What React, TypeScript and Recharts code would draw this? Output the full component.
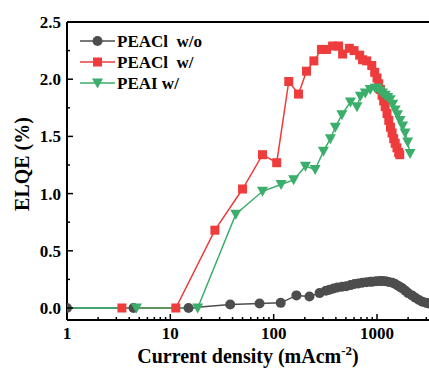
import React from "react";
import { LineChart, Line, XAxis, YAxis, ReferenceLine, Legend } from "recharts";

// PEACl w/o
const woX = [1, 4.4, 15, 38, 73, 117, 166, 222, 278, 320, 347, 380, 415, 460, 505, 555, 605, 660, 720, 790, 860, 905, 980, 1060, 1130, 1210, 1300, 1410, 1500, 1600, 1700, 1770, 1880, 2000, 2180, 2350, 2550, 2750, 3000, 3150];
const woY = [0, 0, 0, 0.03, 0.04, 0.045, 0.11, 0.1, 0.13, 0.15, 0.16, 0.17, 0.18, 0.185, 0.19, 0.2, 0.21, 0.215, 0.22, 0.225, 0.23, 0.23, 0.233, 0.235, 0.235, 0.233, 0.228, 0.22, 0.21, 0.195, 0.18, 0.17, 0.15, 0.13, 0.11, 0.09, 0.07, 0.055, 0.045, 0.04];

// PEACl w/
const clX = [3.4, 11.3, 27, 50, 78, 107, 140, 174, 208, 245, 290, 325, 372, 425, 465, 540, 600, 680, 725, 795, 890, 950, 1000, 1040, 1080, 1120, 1160, 1200, 1250, 1300, 1350, 1400, 1450, 1500, 1560, 1620, 1660];
const clY = [0, 0, 0.68, 1.04, 1.34, 1.27, 1.98, 1.87, 2.07, 2.16, 2.26, 2.26, 2.29, 2.29, 2.22, 2.27, 2.25, 2.21, 2.17, 2.16, 2.12, 2.06, 2.01, 1.96, 1.91, 1.86, 1.81, 1.76, 1.7, 1.64, 1.58, 1.53, 1.48, 1.44, 1.4, 1.36, 1.34];

// PEAI w/
const iX = [0.7, 4.7, 18.4, 43, 78, 118, 156, 203, 252, 303, 354, 395, 457, 553, 640, 690, 770, 860, 960, 1010, 1070, 1130, 1200, 1270, 1340, 1420, 1500, 1580, 1670, 1770, 1870, 1980, 2090];
const iY = [0, 0, 0, 0.82, 1.02, 1.08, 1.12, 1.24, 1.21, 1.37, 1.48, 1.58, 1.69, 1.8, 1.76, 1.85, 1.88, 1.91, 1.92, 1.92, 1.9, 1.88, 1.86, 1.84, 1.82, 1.78, 1.73, 1.69, 1.64, 1.59, 1.53, 1.45, 1.35];

const xTicks = [1, 2, 3, 4, 5, 6, 7, 8, 9, 10, 20, 30, 40, 50, 60, 70, 80, 90, 100, 200, 300, 400, 500, 600, 700, 800, 900, 1000, 2000, 3000];
const xLabels = [1, 10, 100, 1000];
const yTicks = [0, 0.25, 0.5, 0.75, 1, 1.25, 1.5, 1.75, 2, 2.25, 2.5];
const yLabels = [0, 0.5, 1, 1.5, 2, 2.5];

const GRAY = "#4d4d4d";
const RED = "#ee3b3b";
const GREEN = "#3aae6a";
const FONT = "'Liberation Serif', 'Times New Roman', serif";

const rows = (xs: number[], ys: number[]) => xs.map((x, i) => ({ x, y: ys[i] }));

const woData = rows(woX, woY);
const clData = rows(clX, clY);
const iData = rows(iX, iY);

const Square = (props: any) => {
  const { cx, cy, index } = props;
  if (cx == null || cy == null) return <g key={index} />;
  return <rect key={index} x={cx - 4.5} y={cy - 4.5} width={9} height={9} fill={RED} />;
};

const Tri = (props: any) => {
  const { cx, cy, index } = props;
  if (cx == null || cy == null) return <g key={index} />;
  return <polygon key={index} points={`${cx - 5.5},${cy - 4.5} ${cx + 5.5},${cy - 4.5} ${cx},${cy + 5.5}`} fill={GREEN} />;
};

const XTick = (props: any) => {
  const { x, y, payload } = props;
  const major = xLabels.includes(payload.value);
  return (
    <g>
      <line x1={x} x2={x} y1={y} y2={y - (major ? 6 : 3)} stroke="#000" strokeWidth={1.5} />
      {major && (
        <text x={x} y={y + 19} textAnchor="middle" fontFamily={FONT} fontWeight="bold" fontSize={17} fill="#000">
          {payload.value}
        </text>
      )}
    </g>
  );
};

const YTick = (props: any) => {
  const { x, y, payload } = props;
  const major = yLabels.includes(payload.value);
  return (
    <g>
      <line x1={x} x2={x + (major ? 6 : 3)} y1={y} y2={y} stroke="#000" strokeWidth={1.5} />
      {major && (
        <text x={x - 6} y={y + 6} textAnchor="end" fontFamily={FONT} fontWeight="bold" fontSize={17} fill="#000">
          {payload.value.toFixed(1)}
        </text>
      )}
    </g>
  );
};

const legendItems = [
  { name: "PEACl  w/o", color: GRAY, shape: "circle" },
  { name: "PEACl  w/", color: RED, shape: "square" },
  { name: "PEAI w/", color: GREEN, shape: "tri" },
];

const LegendBox = () => (
  <svg width={150} height={66}>
    {legendItems.map((it, i) => {
      const cy = 11 + i * 21;
      return (
        <g key={it.name}>
          <line x1={2} x2={37} y1={cy} y2={cy} stroke={it.color} strokeWidth={1.5} />
          {it.shape === "circle" && <circle cx={19.5} cy={cy} r={5} fill={it.color} />}
          {it.shape === "square" && <rect x={15} y={cy - 4.5} width={9} height={9} fill={it.color} />}
          {it.shape === "tri" && (
            <polygon points={`${14},${cy - 4.5} ${25},${cy - 4.5} ${19.5},${cy + 5.5}`} fill={it.color} />
          )}
          <text x={39} y={cy + 6} fontFamily={FONT} fontWeight="bold" fontSize={17} fill="#000" style={{ whiteSpace: "pre" }}>
            {it.name}
          </text>
        </g>
      );
    })}
  </svg>
);

const XLabel = () => (
  <text x={248} y={363} textAnchor="middle" fontFamily={FONT} fontWeight="bold" fontSize={20} fill="#000">
    Current density (mAcm
    <tspan dy={-8} fontSize={13}>-2</tspan>
    <tspan dy={8}>)</tspan>
  </text>
);

const YLabel = () => (
  <text x={29} y={164} transform="rotate(-90 29 164)" textAnchor="middle" fontFamily={FONT} fontWeight="bold" fontSize={20} fill="#000">
    ELQE (%)
  </text>
);

export default function App() {
  return (
    <div style={{ position: "absolute", left: 0, top: 0, background: "#fff" }}>
      <LineChart width={429} height={370} margin={{ top: 22, right: 0, left: 0, bottom: 0 }}>
        <XAxis
          dataKey="x"
          type="number"
          scale="log"
          domain={[1, 3186]}
          allowDataOverflow
          ticks={xTicks}
          interval={0}
          tick={<XTick />}
          tickLine={false}
          tickSize={0}
          tickMargin={0}
          height={50}
          axisLine={{ stroke: "#000", strokeWidth: 2 }}
          label={<XLabel />}
        />
        <YAxis
          type="number"
          domain={[-0.105, 2.5]}
          allowDataOverflow
          ticks={yTicks}
          interval={0}
          tick={<YTick />}
          tickLine={false}
          tickSize={0}
          tickMargin={0}
          width={67}
          axisLine={{ stroke: "#000", strokeWidth: 2 }}
          label={<YLabel />}
        />
        <ReferenceLine y={2.5} stroke="#000" strokeWidth={2} />
        <Legend
          layout="vertical"
          align="center"
          verticalAlign="middle"
          content={<LegendBox />}
          wrapperStyle={{ left: 78, top: 30, width: 150 }}
        />
        <Line data={woData} dataKey="y" stroke={GRAY} strokeWidth={1.5} dot={{ r: 5, fill: GRAY, stroke: GRAY, strokeWidth: 0 }} isAnimationActive={false} name="PEACl  w/o" />
        <Line data={clData} dataKey="y" stroke={RED} strokeWidth={1.5} dot={<Square />} isAnimationActive={false} name="PEACl  w/" />
        <Line data={iData} dataKey="y" stroke={GREEN} strokeWidth={1.5} dot={<Tri />} isAnimationActive={false} name="PEAI w/" />
      </LineChart>
    </div>
  );
}
